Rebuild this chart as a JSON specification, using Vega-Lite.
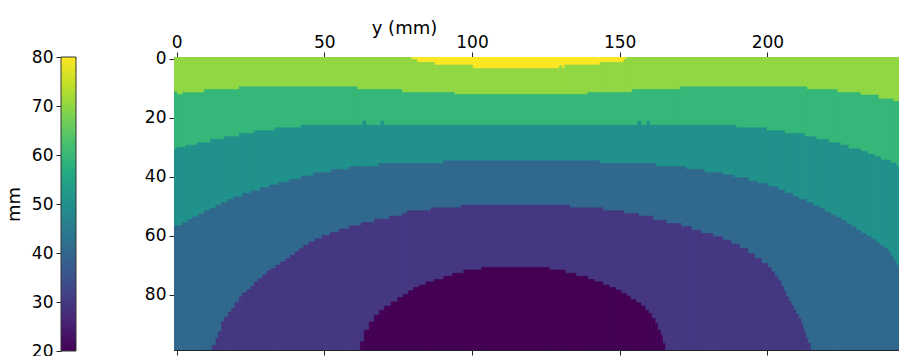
{
  "$schema": "https://vega.github.io/schema/vega-lite/v6.json",
  "autosize": {"type": "pad"},
  "padding": {"left": 5, "top": 19, "right": 0, "bottom": 0},
  "background": "white",
  "config": {
    "view": {"stroke": null},
    "font": "DejaVu Sans",
    "axis": {"labelFont": "DejaVu Sans", "titleFont": "DejaVu Sans", "labelFontSize": 17, "titleFontSize": 18, "titleFontWeight": "normal", "labelColor": "#000", "titleColor": "#000", "tickColor": "#222", "domainColor": "#222", "tickSize": 5, "grid": false, "labelFlush": false, "labelOverlap": false, "zindex": 1}
  },
  "datasets": {
    "bands": [
      {"k":"80","a":-1,"b":246,"t":-1},
      {"k":"70","a":-1,"b":79.3,"t":-1},
      {"k":"70","a":79.3,"b":81.4,"t":0.2},
      {"k":"70","a":81.4,"b":87.2,"t":1.2},
      {"k":"70","a":87.2,"b":100.2,"t":2.1},
      {"k":"70","a":100.2,"b":129.6,"t":3.3},
      {"k":"70","a":129.6,"b":130.5,"t":2.4},
      {"k":"70","a":130.5,"b":131.3,"t":3.3},
      {"k":"70","a":131.3,"b":143.3,"t":2.1},
      {"k":"70","a":143.3,"b":151.4,"t":1.2},
      {"k":"70","a":151.4,"b":152.2,"t":0.2},
      {"k":"70","a":152.2,"b":246,"t":-1},
      {"k":"60","a":-1,"b":0.1,"t":11.2},
      {"k":"60","a":0.1,"b":2.0,"t":12.1},
      {"k":"60","a":2.0,"b":9.4,"t":11.5},
      {"k":"60","a":9.4,"b":21.2,"t":10.4},
      {"k":"60","a":21.2,"b":61.1,"t":9.5},
      {"k":"60","a":61.1,"b":76.2,"t":10.4},
      {"k":"60","a":76.2,"b":94.0,"t":11.4},
      {"k":"60","a":94.0,"b":139.2,"t":12.1},
      {"k":"60","a":139.2,"b":154.2,"t":11.4},
      {"k":"60","a":154.2,"b":170.5,"t":10.4},
      {"k":"60","a":170.5,"b":213.4,"t":9.5},
      {"k":"60","a":213.4,"b":223.6,"t":10.4},
      {"k":"60","a":223.6,"b":231.5,"t":11.4},
      {"k":"60","a":231.5,"b":237.6,"t":12.3},
      {"k":"60","a":237.6,"b":242.5,"t":13.6},
      {"k":"60","a":242.5,"b":246,"t":14.4},
      {"k":"50","a":-1,"b":0.1,"t":30.7},
      {"k":"50","a":0.1,"b":3.1,"t":30.0},
      {"k":"50","a":3.1,"b":7.1,"t":29.3},
      {"k":"50","a":7.1,"b":11.4,"t":28.5},
      {"k":"50","a":11.4,"b":16.1,"t":27.3},
      {"k":"50","a":16.1,"b":21.2,"t":26.4},
      {"k":"50","a":21.2,"b":26.3,"t":25.3},
      {"k":"50","a":26.3,"b":33.3,"t":24.4},
      {"k":"50","a":33.3,"b":42.1,"t":23.4},
      {"k":"50","a":42.1,"b":189.4,"t":22.5},
      {"k":"50","a":63.0,"b":64.1,"t":21.1},
      {"k":"50","a":69.2,"b":70.1,"t":21.1},
      {"k":"50","a":156.1,"b":157.2,"t":21.1},
      {"k":"50","a":159.3,"b":160.0,"t":21.1},
      {"k":"50","a":189.4,"b":199.6,"t":23.4},
      {"k":"50","a":199.6,"b":205.8,"t":24.4},
      {"k":"50","a":205.8,"b":212.5,"t":25.3},
      {"k":"50","a":212.5,"b":216.5,"t":26.4},
      {"k":"50","a":216.5,"b":220.7,"t":27.3},
      {"k":"50","a":220.7,"b":224.7,"t":28.5},
      {"k":"50","a":224.7,"b":227.4,"t":29.3},
      {"k":"50","a":227.4,"b":231.5,"t":30.5},
      {"k":"50","a":231.5,"b":233.8,"t":31.3},
      {"k":"50","a":233.8,"b":236.2,"t":32.4},
      {"k":"50","a":236.2,"b":238.3,"t":33.2},
      {"k":"50","a":238.3,"b":241.7,"t":34.3},
      {"k":"50","a":241.7,"b":243.6,"t":35.3},
      {"k":"50","a":243.6,"b":246,"t":36.4},
      {"k":"40","a":-1,"b":2.0,"t":56.6},
      {"k":"40","a":2.0,"b":3.9,"t":55.6},
      {"k":"40","a":3.9,"b":5.4,"t":54.5},
      {"k":"40","a":5.4,"b":7.4,"t":53.6},
      {"k":"40","a":7.4,"b":9.3,"t":52.6},
      {"k":"40","a":9.3,"b":11.4,"t":51.5},
      {"k":"40","a":11.4,"b":13.3,"t":50.7},
      {"k":"40","a":13.3,"b":15.2,"t":49.6},
      {"k":"40","a":15.2,"b":17.3,"t":48.8},
      {"k":"40","a":17.3,"b":19.3,"t":47.7},
      {"k":"40","a":19.3,"b":22.3,"t":46.8},
      {"k":"40","a":22.3,"b":25.2,"t":45.6},
      {"k":"40","a":25.2,"b":28.3,"t":44.8},
      {"k":"40","a":28.3,"b":31.4,"t":43.7},
      {"k":"40","a":31.4,"b":34.4,"t":42.8},
      {"k":"40","a":34.4,"b":38.1,"t":41.9},
      {"k":"40","a":38.1,"b":42.1,"t":40.9},
      {"k":"40","a":42.1,"b":46.3,"t":39.7},
      {"k":"40","a":46.3,"b":52.3,"t":38.6},
      {"k":"40","a":52.3,"b":58.5,"t":37.5},
      {"k":"40","a":58.5,"b":68.3,"t":36.6},
      {"k":"40","a":68.3,"b":90.3,"t":35.5},
      {"k":"40","a":90.3,"b":143.3,"t":34.6},
      {"k":"40","a":143.3,"b":162.3,"t":35.5},
      {"k":"40","a":162.3,"b":172.5,"t":36.6},
      {"k":"40","a":172.5,"b":178.7,"t":37.5},
      {"k":"40","a":178.7,"b":184.7,"t":38.6},
      {"k":"40","a":184.7,"b":188.6,"t":39.4},
      {"k":"40","a":188.6,"b":193.6,"t":40.3},
      {"k":"40","a":193.6,"b":196.5,"t":41.5},
      {"k":"40","a":196.5,"b":200.3,"t":42.3},
      {"k":"40","a":200.3,"b":203.5,"t":43.4},
      {"k":"40","a":203.5,"b":205.8,"t":44.5},
      {"k":"40","a":205.8,"b":208.6,"t":45.6},
      {"k":"40","a":208.6,"b":210.5,"t":46.8},
      {"k":"40","a":210.5,"b":213.1,"t":47.7},
      {"k":"40","a":213.1,"b":215.4,"t":48.8},
      {"k":"40","a":215.4,"b":217.6,"t":49.9},
      {"k":"40","a":217.6,"b":219.3,"t":50.7},
      {"k":"40","a":219.3,"b":221.3,"t":51.9},
      {"k":"40","a":221.3,"b":223.3,"t":53.0},
      {"k":"40","a":223.3,"b":225.0,"t":53.9},
      {"k":"40","a":225.0,"b":226.7,"t":54.9},
      {"k":"40","a":226.7,"b":228.3,"t":56.0},
      {"k":"40","a":228.3,"b":230.0,"t":56.9},
      {"k":"40","a":230.0,"b":231.7,"t":58.1},
      {"k":"40","a":231.7,"b":233.4,"t":59.2},
      {"k":"40","a":233.4,"b":235.1,"t":60.1},
      {"k":"40","a":235.1,"b":236.8,"t":61.2},
      {"k":"40","a":236.8,"b":237.9,"t":62.4},
      {"k":"40","a":237.9,"b":239.4,"t":63.2},
      {"k":"40","a":239.4,"b":240.8,"t":64.3},
      {"k":"40","a":240.8,"b":241.8,"t":65.4},
      {"k":"40","a":241.8,"b":242.7,"t":67.1},
      {"k":"40","a":242.7,"b":243.5,"t":68.5},
      {"k":"40","a":243.5,"b":244.3,"t":70.0},
      {"k":"40","a":244.3,"b":246,"t":71.6},
      {"k":"30","a":12.0,"b":13.3,"t":97.1},
      {"k":"30","a":13.3,"b":14.1,"t":94.8},
      {"k":"30","a":14.1,"b":15.2,"t":92.5},
      {"k":"30","a":15.2,"b":16.1,"t":89.2},
      {"k":"30","a":16.1,"b":17.5,"t":87.5},
      {"k":"30","a":17.5,"b":18.6,"t":85.8},
      {"k":"30","a":18.6,"b":19.7,"t":84.6},
      {"k":"30","a":19.7,"b":21.2,"t":82.7},
      {"k":"30","a":21.2,"b":22.3,"t":80.7},
      {"k":"30","a":22.3,"b":23.8,"t":79.3},
      {"k":"30","a":23.8,"b":25.2,"t":78.2},
      {"k":"30","a":25.2,"b":26.3,"t":77.1},
      {"k":"30","a":26.3,"b":27.6,"t":75.6},
      {"k":"30","a":27.6,"b":29.1,"t":74.5},
      {"k":"30","a":29.1,"b":30.6,"t":73.3},
      {"k":"30","a":30.6,"b":31.9,"t":71.9},
      {"k":"30","a":31.9,"b":33.6,"t":71.1},
      {"k":"30","a":33.6,"b":35.3,"t":69.9},
      {"k":"30","a":35.3,"b":37.0,"t":68.8},
      {"k":"30","a":37.0,"b":38.5,"t":67.7},
      {"k":"30","a":38.5,"b":40.1,"t":66.5},
      {"k":"30","a":40.1,"b":41.5,"t":65.4},
      {"k":"30","a":41.5,"b":43.0,"t":64.3},
      {"k":"30","a":43.0,"b":44.8,"t":63.2},
      {"k":"30","a":44.8,"b":46.8,"t":62.1},
      {"k":"30","a":46.8,"b":49.2,"t":61.0},
      {"k":"30","a":49.2,"b":52.0,"t":59.9},
      {"k":"30","a":52.0,"b":55.0,"t":58.8},
      {"k":"30","a":55.0,"b":58.5,"t":57.7},
      {"k":"30","a":58.5,"b":62.5,"t":56.6},
      {"k":"30","a":62.5,"b":67.0,"t":55.5},
      {"k":"30","a":67.0,"b":72.0,"t":54.4},
      {"k":"30","a":72.0,"b":76.3,"t":53.3},
      {"k":"30","a":76.3,"b":78.0,"t":52.4},
      {"k":"30","a":78.0,"b":86.1,"t":51.5},
      {"k":"30","a":86.1,"b":96.3,"t":50.5},
      {"k":"30","a":96.3,"b":133.0,"t":49.6},
      {"k":"30","a":133.0,"b":144.3,"t":50.5},
      {"k":"30","a":144.3,"b":151.4,"t":51.5},
      {"k":"30","a":151.4,"b":156.3,"t":52.4},
      {"k":"30","a":156.3,"b":161.2,"t":53.3},
      {"k":"30","a":161.2,"b":165.7,"t":54.7},
      {"k":"30","a":165.7,"b":170.8,"t":55.8},
      {"k":"30","a":170.8,"b":174.2,"t":56.9},
      {"k":"30","a":174.2,"b":177.5,"t":58.1},
      {"k":"30","a":177.5,"b":181.5,"t":59.2},
      {"k":"30","a":181.5,"b":184.9,"t":60.3},
      {"k":"30","a":184.9,"b":187.7,"t":61.5},
      {"k":"30","a":187.7,"b":190.5,"t":62.8},
      {"k":"30","a":190.5,"b":193.4,"t":64.3},
      {"k":"30","a":193.4,"b":195.6,"t":66.0},
      {"k":"30","a":195.6,"b":197.9,"t":67.7},
      {"k":"30","a":197.9,"b":200.1,"t":69.4},
      {"k":"30","a":200.1,"b":201.3,"t":70.8},
      {"k":"30","a":201.3,"b":202.4,"t":72.2},
      {"k":"30","a":202.4,"b":203.5,"t":73.6},
      {"k":"30","a":203.5,"b":204.6,"t":75.2},
      {"k":"30","a":204.6,"b":205.5,"t":77.1},
      {"k":"30","a":205.5,"b":206.3,"t":78.9},
      {"k":"30","a":206.3,"b":207.2,"t":80.7},
      {"k":"30","a":207.2,"b":208.0,"t":82.2},
      {"k":"30","a":208.0,"b":208.9,"t":83.7},
      {"k":"30","a":208.9,"b":209.7,"t":85.2},
      {"k":"30","a":209.7,"b":210.6,"t":86.7},
      {"k":"30","a":210.6,"b":211.4,"t":88.2},
      {"k":"30","a":211.4,"b":212.0,"t":89.9},
      {"k":"30","a":212.0,"b":212.5,"t":91.5},
      {"k":"30","a":212.5,"b":213.1,"t":93.1},
      {"k":"30","a":213.1,"b":213.7,"t":94.8},
      {"k":"30","a":213.7,"b":214.6,"t":96.5},
      {"k":"20","a":62.2,"b":63.5,"t":95.9},
      {"k":"20","a":63.5,"b":65.2,"t":92.0},
      {"k":"20","a":65.2,"b":66.9,"t":89.2},
      {"k":"20","a":66.9,"b":68.6,"t":86.9},
      {"k":"20","a":68.6,"b":70.3,"t":85.2},
      {"k":"20","a":70.3,"b":72.6,"t":83.8},
      {"k":"20","a":72.6,"b":74.8,"t":82.4},
      {"k":"20","a":74.8,"b":76.8,"t":80.9},
      {"k":"20","a":76.8,"b":78.5,"t":79.8},
      {"k":"20","a":78.5,"b":80.2,"t":78.6},
      {"k":"20","a":80.2,"b":82.2,"t":77.5},
      {"k":"20","a":82.2,"b":84.4,"t":76.7},
      {"k":"20","a":84.4,"b":87.2,"t":75.6},
      {"k":"20","a":87.2,"b":90.4,"t":74.8},
      {"k":"20","a":90.4,"b":93.5,"t":73.7},
      {"k":"20","a":93.5,"b":97.2,"t":72.7},
      {"k":"20","a":97.2,"b":103.3,"t":71.6},
      {"k":"20","a":103.3,"b":126.2,"t":70.7},
      {"k":"20","a":126.2,"b":131.5,"t":71.6},
      {"k":"20","a":131.5,"b":135.2,"t":72.7},
      {"k":"20","a":135.2,"b":139.2,"t":73.7},
      {"k":"20","a":139.2,"b":141.4,"t":74.8},
      {"k":"20","a":141.4,"b":144.3,"t":75.6},
      {"k":"20","a":144.3,"b":146.5,"t":76.7},
      {"k":"20","a":146.5,"b":148.5,"t":77.5},
      {"k":"20","a":148.5,"b":150.5,"t":78.4},
      {"k":"20","a":150.5,"b":152.2,"t":79.5},
      {"k":"20","a":152.2,"b":153.6,"t":80.4},
      {"k":"20","a":153.6,"b":155.5,"t":81.6},
      {"k":"20","a":155.5,"b":157.2,"t":82.7},
      {"k":"20","a":157.2,"b":158.6,"t":83.8},
      {"k":"20","a":158.6,"b":159.7,"t":85.2},
      {"k":"20","a":159.7,"b":160.8,"t":86.3},
      {"k":"20","a":160.8,"b":162.0,"t":88.0},
      {"k":"20","a":162.0,"b":162.9,"t":89.7},
      {"k":"20","a":162.9,"b":163.8,"t":92.0},
      {"k":"20","a":163.8,"b":164.5,"t":93.7},
      {"k":"20","a":164.5,"b":165.3,"t":96.5}
    ],
    "bar": [{"lo": 20, "hi": 80}],
    "ticks": [{"a": 0}]
  },
  "hconcat": [
    {
      "width": 15,
      "height": 294,
      "data": {"name": "bar"},
      "mark": {
        "type": "rect",
        "stroke": "#333",
        "strokeWidth": 1,
        "color": {
          "gradient": "linear", "x1": 0, "y1": 1, "x2": 0, "y2": 0,
          "stops": [
            {"offset": 0.0, "color": "#440154"},
            {"offset": 0.1, "color": "#482475"},
            {"offset": 0.2, "color": "#414487"},
            {"offset": 0.3, "color": "#355f8d"},
            {"offset": 0.4, "color": "#2a788e"},
            {"offset": 0.5, "color": "#21918c"},
            {"offset": 0.6, "color": "#22a884"},
            {"offset": 0.7, "color": "#44bf70"},
            {"offset": 0.8, "color": "#7ad151"},
            {"offset": 0.9, "color": "#bddf26"},
            {"offset": 1.0, "color": "#fde725"}
          ]
        }
      },
      "encoding": {
        "x": {"datum": 0, "type": "quantitative", "scale": {"domain": [0, 1]}, "axis": null},
        "x2": {"datum": 1},
        "y": {"field": "lo", "type": "quantitative", "scale": {"domain": [20, 80], "nice": false, "zero": false},
              "axis": {"orient": "left", "values": [20, 30, 40, 50, 60, 70, 80], "title": "mm", "labelPadding": 3, "titlePadding": 8, "domain": false}},
        "y2": {"field": "hi"}
      }
    },
    {
      "width": 726,
      "height": 293,
      "layer": [
        {
          "data": {"name": "bands"},
          "mark": {"type": "rect", "clip": true, "strokeWidth": 0.6},
          "encoding": {
            "x": {"field": "a", "type": "quantitative", "scale": {"domain": [-0.9, 244.9], "nice": false, "zero": false},
                  "axis": {"orient": "top", "values": [0, 50, 100, 150, 200], "title": "y (mm)", "titleX": 230, "titleY": -24, "titleAlign": "center", "titleAnchor": null, "titleBaseline": "alphabetic", "labelBaseline": "alphabetic", "labelPadding": 5, "domain": true}},
            "x2": {"field": "b"},
            "y": {"field": "t", "type": "quantitative", "scale": {"domain": [-0.6, 98.7], "nice": false, "zero": false, "reverse": true},
                  "axis": {"values": [0, 20, 40, 60, 80], "title": null, "labelPadding": 3, "domain": true}},
            "y2": {"datum": 99},
            "color": {"field": "k", "type": "nominal", "legend": null,
                      "scale": {"domain": ["80", "70", "60", "50", "40", "30", "20"], "range": ["#fde725", "#90d743", "#35b779", "#21918c", "#31688e", "#453781", "#440154"]}},
            "stroke": {"field": "k", "type": "nominal", "legend": null,
                      "scale": {"domain": ["80", "70", "60", "50", "40", "30", "20"], "range": ["#fde725", "#90d743", "#35b779", "#21918c", "#31688e", "#453781", "#440154"]}}
          }
        },
        {
          "data": {"name": "ticks"},
          "mark": {"type": "rule", "opacity": 0},
          "encoding": {
            "x": {"field": "a", "type": "quantitative",
                  "axis": {"orient": "bottom", "values": [0, 50, 100, 150, 200], "labels": false, "title": null, "domain": true}}
          }
        }
      ],
      "resolve": {"axis": {"x": "independent"}}
    }
  ],
  "spacing": 98,
  "bounds": "flush"
}
